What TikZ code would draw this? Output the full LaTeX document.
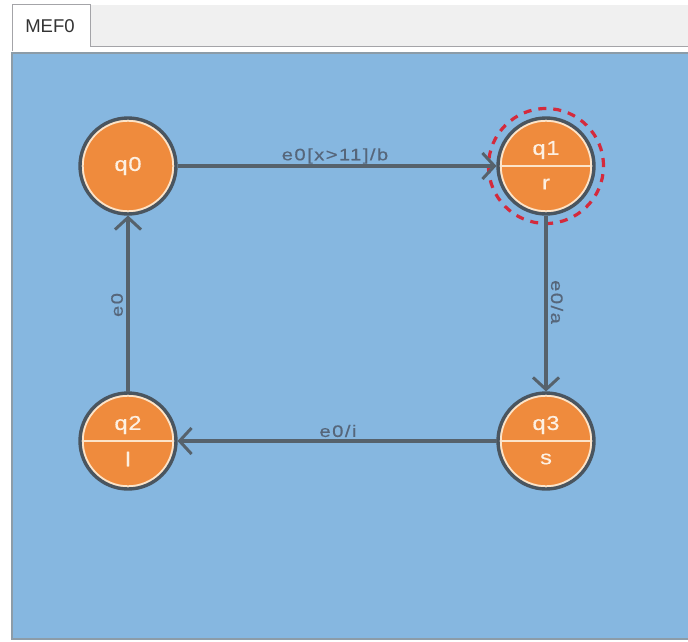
\documentclass[tikz,border=0pt]{standalone}
\usepackage{fontspec}
\setmainfont{Liberation Sans}
\newfontfamily\lblfont[FakeStretch=1.18,LetterSpace=4,FakeBold=0.6]{Liberation Sans}
\newfontfamily\edgefont[FakeStretch=1.22,LetterSpace=9,FakeBold=0.5]{Liberation Sans}
\usetikzlibrary{arrows.meta}
\definecolor{bluebg}{HTML}{86B7E0}
\definecolor{tabbar}{HTML}{F0F0F0}
\definecolor{tabline}{HTML}{A4A4A8}
\definecolor{panelborder}{HTML}{8C9CA8}
\definecolor{edgec}{HTML}{56626C}
\definecolor{lblc}{HTML}{56667A}
\definecolor{stfill}{HTML}{EF8B3D}
\definecolor{cream}{HTML}{FCE4C9}
\definecolor{ringc}{HTML}{4A555F}
\definecolor{sttext}{HTML}{FDF0E2}
\definecolor{redd}{HTML}{D42A3C}
\tikzset{
  stnode/.style={circle, fill=stfill, draw=cream, line width=2.4pt, minimum size=91pt, inner sep=0pt, outer sep=4pt},
  ringst/.style={draw=ringc, line width=3.4pt},
  divline/.style={draw=cream, line width=2.4pt},
  sttxt/.style={text=sttext, font=\lblfont\fontsize{20}{21}\selectfont, inner sep=0pt},
  edge/.style={draw=edgec, line width=3.6pt, -{Straight Barb[length=12pt,width=26pt,line width=3pt]}},
  elbl/.style={text=lblc, font=\edgefont\fontsize{16.5}{17}\selectfont, inner sep=0pt},
}
\begin{document}
\begin{tikzpicture}[x=1pt,y=1pt]
\useasboundingbox (0,0) rectangle (688,-642);
\fill[white] (0,0) rectangle (688,-642);
% tab bar
\fill[tabbar] (12,-5) rectangle (688,-46);
\draw[tabline, line width=1.5pt] (12,-46.5) -- (688,-46.5);
\fill[white] (12,-47.5) rectangle (688,-51.5);
% panel
\filldraw[fill=bluebg, draw=panelborder, line width=2pt] (12,-53) rectangle (692,-639);
% tab
\fill[white] (12,-5) rectangle (90,-51.5);
\draw[tabline, line width=1pt] (12,-51.5) -- (12,-5) -- (90,-5) -- (90,-46);
\node[text=black!80, font=\fontsize{18.5}{19}\selectfont, inner sep=0pt] (tab) at (50,-26) {MEF0};

% states
\node[stnode] (q0) at (128,-166) {};
\node[stnode] (q1) at (546,-166) {};
\node[stnode] (q2) at (128,-441) {};
\node[stnode] (q3) at (546,-441) {};
\foreach \s in {q0,q1,q2,q3} {
  \draw[ringst] (\s.center) circle[radius=48pt];
}
\foreach \s in {q1,q2,q3} {
  \draw[divline] ([xshift=-45.5pt]\s.center) -- ([xshift=45.5pt]\s.center);
}
\draw[redd, line width=3.2pt, dash pattern=on 8pt off 7pt] (q1.center) circle[radius=57.5pt];

\node[sttxt] (q0t) at (q0.center) {q0};
\node[sttxt] (q1t) at ([yshift=16pt]q1.center) {q1};
\node[sttxt] (q1o) at ([yshift=-18pt]q1.center) {r};
\node[sttxt] (q2t) at ([yshift=16pt]q2.center) {q2};
\node[sttxt] (q2o) at ([yshift=-18pt]q2.center) {l};
\node[sttxt] (q3t) at ([yshift=16pt]q3.center) {q3};
\node[sttxt] (q3o) at ([yshift=-18pt]q3.center) {s};

% transitions
\draw[edge] (q0.east) -- (q1.west);
\draw[edge] (q1.south) -- (q3.north);
\draw[edge] (q3.west) -- (q2.east);
\draw[edge] (q2.north) -- (q0.south);

\node[elbl] (l01) at (335,-156) {e0[x>11]/b};
\node[elbl, rotate=-90] (l13) at (557,-302) {e0/a};
\node[elbl] (l32) at (338,-431) {e0/i};
\node[elbl, rotate=90] (l20) at (117,-305) {e0};
\end{tikzpicture}
\end{document}
